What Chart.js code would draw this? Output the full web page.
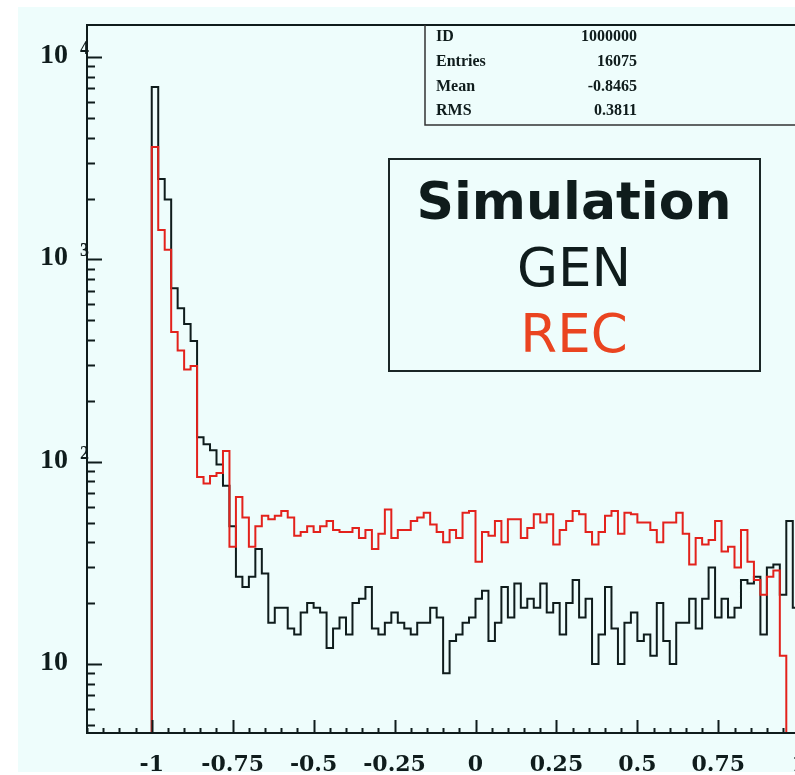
<!DOCTYPE html>
<html>
<head>
<meta charset="utf-8">
<script src="https://cdn.jsdelivr.net/npm/chart.js@4.4.0/dist/chart.umd.min.js"></script>
<style>
  html, body { margin: 0; padding: 0; background: #fff; overflow: hidden; }
  #wrap { width: 795px; height: 775px; overflow: hidden; }
  canvas { display: block; }
</style>
</head>
<body>
<div id="wrap"><canvas id="histo" width="880" height="775"></canvas></div>
<script>
// binning: 100 bins of 0.02 from -1 to 1
const binLo = -1;
const binWidth = 0.02;

const genCounts = [
  7110, 2500, 1980, 720, 574, 479, 395, 132, 122, 114,
  97, 76, 48, 27, 24, 27, 37, 28, 16, 19,
  19, 15, 14, 18, 20, 19, 18, 12, 15, 17,
  14, 20, 21, 24, 15, 14, 16, 18, 16, 15,
  14, 16, 16, 19, 17, 9, 13, 14, 16, 17,
  21, 23, 13, 16, 24, 17, 25, 19, 21, 19,
  25, 18, 20, 14, 20, 26, 17, 21, 10, 14,
  24, 15, 10, 16, 18, 13, 14, 11, 20, 13,
  10, 16, 16, 21, 15, 21, 30, 17, 21, 17,
  19, 26, 25, 27, 14, 30, 31, 22, 51, 19
];

const recCounts = [
  3600, 1400, 1117, 438, 355, 286, 297, 84, 78, 85,
  88, 113, 38, 67, 53, 38, 48, 54, 52, 54,
  57, 53, 43, 45, 48, 45, 48, 51, 46, 45,
  45, 47, 42, 46, 37, 44, 58, 42, 46, 46,
  51, 53, 56, 49, 45, 40, 46, 42, 56, 57,
  32, 45, 43, 51, 40, 52, 52, 42, 47, 55,
  50, 55, 39, 46, 51, 57, 55, 45, 39, 45,
  54, 57, 44, 56, 55, 50, 50, 46, 40, 50,
  50, 56, 44, 31, 42, 39, 41, 51, 36, 38,
  30, 46, 32, 26, 22, 27, 29, 11, 0, 0
];

const xTickValues = [-1, -0.75, -0.5, -0.25, 0, 0.25, 0.5, 0.75, 1];
const yDecades = [10, 100, 1000, 10000];
const yExponents = ['', '2', '3', '4'];

const statsLabels = ['ID', 'Entries', 'Mean', 'RMS'];
const statsValues = ['1000000', '16075', '-0.8465', '0.3811'];

const legendLines = ['Simulation', 'GEN', 'REC'];

const INK = '#0f1c1c';
const RED = '#e3221c';
const BG = '#eefdfc';
const FLOOR = 1; // empty bins sit below the visible range

// step outline points at the left edge of every bin
function stepPoints(counts) {
  const pts = [{ x: binLo - binWidth, y: FLOOR }];
  counts.forEach((c, k) => pts.push({ x: binLo + k * binWidth, y: c > 0 ? c : FLOOR }));
  pts.push({ x: binLo + counts.length * binWidth, y: FLOOR });
  return pts;
}

const decor = {
  id: 'decor',
  beforeDraw(chart) {
    const ctx = chart.ctx;
    ctx.save();
    ctx.fillStyle = '#fff';
    ctx.fillRect(0, 0, chart.width, chart.height);
    ctx.fillStyle = BG;
    ctx.fillRect(18, 7, chart.width - 18, 765);
    ctx.restore();
  },
  afterDatasetsDraw(chart) {
    const { ctx, chartArea: a } = chart;
    const xs = chart.scales.x, ys = chart.scales.y;
    ctx.save();
    ctx.strokeStyle = INK;
    ctx.lineWidth = 2;
    ctx.strokeRect(a.left, a.top, a.right - a.left, a.bottom - a.top);

    // x ticks, every 0.05, long ones every 0.25
    ctx.beginPath();
    for (let i = -24; i <= 24; i++) {
      const px = Math.round(xs.getPixelForValue(i * 0.05)) + 0.5;
      const len = i % 5 === 0 ? 13 : 5;
      ctx.moveTo(px, a.bottom);
      ctx.lineTo(px, a.bottom - len);
    }
    // y ticks, 1..9 per decade
    for (let d = 1; d <= 10000; d *= 10) {
      for (let m = 1; m <= 9; m++) {
        const v = m * d;
        if (v < ys.min || v > ys.max) continue;
        const py = Math.round(ys.getPixelForValue(v)) + 0.5;
        ctx.moveTo(a.left, py);
        ctx.lineTo(a.left + (m === 1 ? 15 : 8), py);
      }
    }
    ctx.stroke();

    // y labels with superscript powers
    ctx.fillStyle = INK;
    yDecades.forEach((v, i) => {
      const py = ys.getPixelForValue(v);
      ctx.font = 'bold 28px "Liberation Serif"';
      ctx.textAlign = 'right';
      ctx.textBaseline = 'alphabetic';
      ctx.fillText('10', 68, py + 6);
      if (yExponents[i]) {
        ctx.font = 'bold 18px "Liberation Serif"';
        ctx.textAlign = 'left';
        ctx.fillText(yExponents[i], 80, py - 3);
      }
    });

    // statistics box
    ctx.strokeStyle = '#333';
    ctx.lineWidth = 1.5;
    ctx.beginPath();
    ctx.moveTo(425, a.top);
    ctx.lineTo(425, 125);
    ctx.lineTo(chart.width, 125);
    ctx.stroke();
    ctx.font = 'bold 16px "Liberation Serif"';
    ctx.textBaseline = 'middle';
    statsLabels.forEach((t, i) => {
      const y = 37 + i * 24.7;
      ctx.textAlign = 'left';
      ctx.fillText(t, 436, y);
      ctx.textAlign = 'right';
      ctx.fillText(statsValues[i], 637, y);
    });

    // caption box
    ctx.strokeStyle = '#1a2626';
    ctx.lineWidth = 2;
    ctx.strokeRect(389, 159, 371, 212);
    ctx.textAlign = 'center';
    ctx.textBaseline = 'alphabetic';
    ctx.font = 'bold 52px "DejaVu Sans"';
    ctx.fillStyle = INK;
    ctx.fillText(legendLines[0], 574, 219);
    ctx.font = '53px "DejaVu Sans"';
    ctx.fillText(legendLines[1], 574, 286);
    ctx.fillStyle = '#ea4420';
    ctx.fillText(legendLines[2], 574, 351.5);
    ctx.restore();
  }
};

new Chart(document.getElementById('histo'), {
  type: 'line',
  data: {
    datasets: [
      {
        label: 'REC',
        data: stepPoints(recCounts),
        borderColor: RED,
        borderWidth: 2,
        stepped: 'before',
        pointRadius: 0,
        fill: false,
        order: 0
      },
      {
        label: 'GEN',
        data: stepPoints(genCounts),
        borderColor: INK,
        borderWidth: 2,
        stepped: 'before',
        pointRadius: 0,
        fill: false,
        order: 1
      }
    ]
  },
  options: {
    responsive: false,
    animation: false,
    events: [],
    layout: { padding: { left: 0, top: 25, right: 16, bottom: 0 } },
    plugins: { legend: { display: false }, tooltip: { enabled: false } },
    scales: {
      x: {
        type: 'linear',
        min: -1.2,
        max: 1.2,
        grid: { display: false, drawTicks: false },
        border: { display: false },
        afterBuildTicks: s => { s.ticks = xTickValues.map(v => ({ value: v })); },
        afterFit: s => { s.height = 42; },
        ticks: {
          padding: 19,
          color: INK,
          autoSkip: false,
          maxRotation: 0,
          font: { family: 'DejaVu Serif', weight: 'bold', size: 22 },
          callback: v => String(v)
        }
      },
      y: {
        type: 'logarithmic',
        min: 4.56,
        max: 14420,
        grid: { display: false, drawTicks: false },
        border: { display: false },
        ticks: { display: false },
        afterFit: s => { s.width = 87; }
      }
    }
  },
  plugins: [decor]
});
</script>
</body>
</html>
